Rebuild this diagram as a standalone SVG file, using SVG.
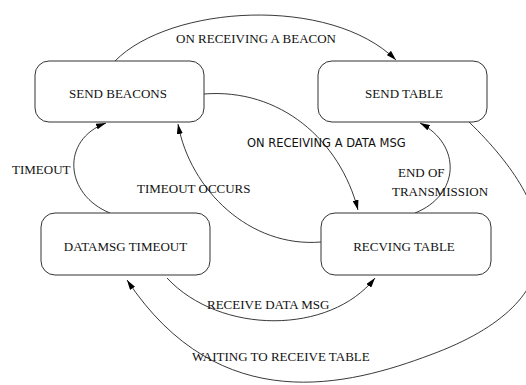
<svg xmlns="http://www.w3.org/2000/svg" width="526" height="385" viewBox="0 0 526 385">
<style>
.node rect{fill:#fff;stroke:#333;stroke-width:1}
.node text,.lbl{font-family:"Liberation Serif",serif;font-size:13px;fill:#111}
.node text{text-anchor:middle}
.sans{font-family:"DejaVu Sans",sans-serif;font-size:11.5px;fill:#111}
.edge{fill:none;stroke:#222;stroke-width:0.9;marker-end:url(#ah)}
</style>
<defs>
<marker id="ah" viewBox="0 0 10 6" refX="10" refY="3" markerWidth="10" markerHeight="6" markerUnits="userSpaceOnUse" orient="auto">
<path d="M0,0 L10,3 L0,6 Z" fill="#000"/>
</marker>
</defs>
<rect width="526" height="385" fill="#fff"/>
<g id="connectors">
<path class="edge" d="M115,61 C170,5 330,-5 396,60"/>
<path class="edge" d="M204,94 C280,88 340,140 358,210"/>
<path class="edge" d="M321,242 C250,248 190,190 178,124"/>
<path class="edge" d="M110,213 C65,195 60,140 106,123"/>
<path class="edge" d="M167,278 C220,335 330,335 375,278"/>
<path class="edge" d="M415,213 C460,195 462,145 420,123"/>
<path class="edge" d="M469,122 C560,210 580,300 430,355 C350,385 220,420 127,280"/>
<text class="lbl" x="176" y="43">ON RECEIVING A BEACON</text>
<text class="sans" x="247" y="147">ON RECEIVING A DATA MSG</text>
<text class="lbl" x="12" y="174">TIMEOUT</text>
<text class="lbl" x="137" y="193">TIMEOUT OCCURS</text>
<text class="lbl" x="398" y="177">END OF</text>
<text class="lbl" x="392" y="196">TRANSMISSION</text>
<text class="lbl" x="207" y="309">RECEIVE DATA MSG</text>
<text class="lbl" x="192" y="361">WAITING TO RECEIVE TABLE</text>
</g>
<g id="send-beacons" class="node"><rect x="35" y="61" width="169" height="61" rx="14"/><text x="118" y="98">SEND BEACONS</text></g>
<g id="send-table" class="node"><rect x="318" y="61" width="169" height="61" rx="14"/><text x="404" y="98">SEND TABLE</text></g>
<g id="datamsg-timeout" class="node"><rect x="41" y="213" width="169" height="62" rx="14"/><text x="125.5" y="251">DATAMSG TIMEOUT</text></g>
<g id="recving-table" class="node"><rect x="321" y="213" width="170" height="62" rx="14"/><text x="404" y="251">RECVING TABLE</text></g>
</svg>
